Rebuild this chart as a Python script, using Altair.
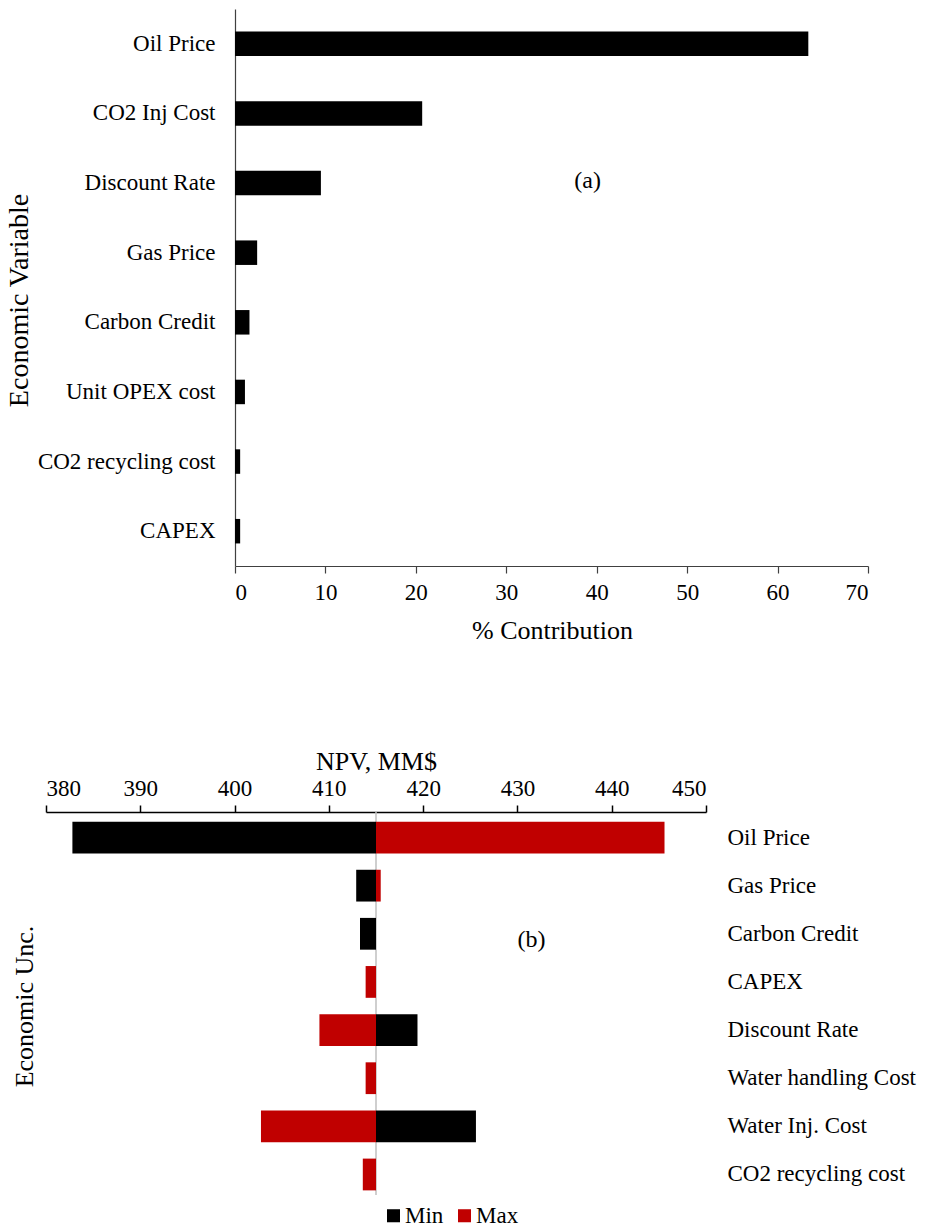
import altair as alt
import pandas as pd

FONT = "Liberation Serif"

# ---------------- Panel (a) data ----------------
vars_a = ["Oil Price", "CO2 Inj Cost", "Discount Rate", "Gas Price",
          "Carbon Credit", "Unit OPEX cost", "CO2 recycling cost", "CAPEX"]
contrib_a = [63.4, 20.7, 9.5, 2.45, 1.6, 1.1, 0.57, 0.57]
ticks_a = [0, 10, 20, 30, 40, 50, 60, 70]

# ---------------- Panel (b) data ----------------
vars_b = ["Oil Price", "Gas Price", "Carbon Credit", "CAPEX", "Discount Rate",
          "Water handling Cost", "Water Inj. Cost", "CO2 recycling cost"]
npv_min = [382.8, 412.9, 413.3, 415.0, 419.4, 415.0, 425.6, 415.0]
npv_max = [445.6, 415.5, 415.0, 413.9, 409.0, 413.9, 402.8, 413.6]
npv_base = 415.0
ticks_b = [380, 390, 400, 410, 420, 430, 440, 450]
series_names = ["Min", "Max"]
series_colors = ["#000000", "#C00000"]

# Both panels share the same plot origin; panel (a)'s axis is shifted inward.
A_SHIFT = 189      # where panel (a)'s value axis starts inside its view
A_WIDTH = 822

# ---------------- Panel (a) ----------------
df_a = pd.DataFrame({"var": vars_a, "pct": contrib_a})
ya = alt.Y("var:N", sort=vars_a,
           scale=alt.Scale(domain=vars_a, paddingInner=0.648, paddingOuter=0.324),
           axis=alt.Axis(title="Economic Variable", ticks=False, labelPadding=20,
                         titlePadding=4, titleFontSize=28, titleY=291,
                         offset=-A_SHIFT,
                         domainColor="#404040", domainWidth=1.2, labelLimit=400))
xa = alt.X("pct:Q", scale=alt.Scale(domain=[0, 70], nice=False, zero=False,
                                    range=[A_SHIFT, A_WIDTH]),
           axis=alt.Axis(values=ticks_a, title="% Contribution", tickSize=7,
                         labelPadding=8, titlePadding=13, titleFontSize=26,
                         titleX=506, domainColor="#404040",
                         tickColor="#404040", domainWidth=1.2, tickWidth=1.2))
bars_a = alt.Chart(df_a).mark_bar(color="black").encode(x=xa, y=ya)

lab_a = alt.Chart(pd.DataFrame({"pct": [39.0], "var": ["Discount Rate"], "t": ["(a)"]})).mark_text(
    font=FONT, fontSize=24, color="black", dy=-2
).encode(x=xa, y=ya, text="t:N")

top = alt.layer(bars_a, lab_a).properties(width=A_WIDTH, height=557)

# ---------------- Panel (b) ----------------
rows = []
for v, mn, mx in zip(vars_b, npv_min, npv_max):
    rows.append({"var": v, "series": "Min", "value": mn, "base": npv_base})
    rows.append({"var": v, "series": "Max", "value": mx, "base": npv_base})
df_b = pd.DataFrame(rows)

xb = alt.X("value:Q", scale=alt.Scale(domain=[380, 450], nice=False, zero=False),
           axis=alt.Axis(orient="top", values=ticks_b, title="NPV, MM$", tickSize=7,
                         labelPadding=5, titlePadding=3, titleFontSize=26,
                         domainColor="black", tickColor="black",
                         domainWidth=1.5, tickWidth=1.5))
yscale_b = alt.Scale(domain=vars_b, paddingInner=0.34, paddingOuter=0.2)

bars_b = alt.Chart(df_b).mark_bar().encode(
    x=xb,
    x2="base:Q",
    y=alt.Y("var:N", sort=vars_b, scale=yscale_b,
            axis=alt.Axis(orient="right", title=None, ticks=False, domain=False,
                          labelPadding=21, labelAlign="left", labelLimit=400)),
    color=alt.Color("series:N", scale=alt.Scale(domain=series_names, range=series_colors),
                    legend=alt.Legend(orient="none", legendX=336, legendY=392,
                                      direction="horizontal", title=None,
                                      symbolType="square", symbolSize=170,
                                      symbolStrokeWidth=0, labelFont=FONT,
                                      labelFontSize=23, labelColor="black",
                                      columnPadding=9, labelOffset=0, padding=0)),
)

rule_b = alt.Chart(pd.DataFrame({"value": [npv_base]})).mark_rule(color="#BFBFBF", strokeWidth=1.5).encode(
    x=xb, y=alt.value(0), y2=alt.value(383)
)

lab_b = alt.Chart(pd.DataFrame({"value": [431.5], "var": ["Carbon Credit"], "t": ["(b)"]})).mark_text(
    font=FONT, fontSize=24, color="black", dy=6
).encode(
    x=xb,
    y=alt.Y("var:N", sort=vars_b, scale=yscale_b,
            axis=alt.Axis(orient="left", title="Economic Unc.", labels=False, ticks=False,
                          domain=False, titlePadding=9, titleFontSize=26)),
    text="t:N",
)

bottom = alt.layer(rule_b, bars_b, lab_b).resolve_axis(y="independent").properties(width=660, height=388)

chart = alt.vconcat(top, bottom, spacing=105).resolve_legend(
    color="independent"
).properties(
    padding={"left": 5, "top": 9, "right": 5, "bottom": 0}
).configure_view(stroke=None).configure_axis(
    labelFont=FONT, titleFont=FONT, labelFontSize=23, titleFontSize=24,
    labelColor="black", titleColor="black", titleFontWeight="normal", grid=False
)

chart.save("out.html", embed_options={"renderer": "svg", "actions": False})
